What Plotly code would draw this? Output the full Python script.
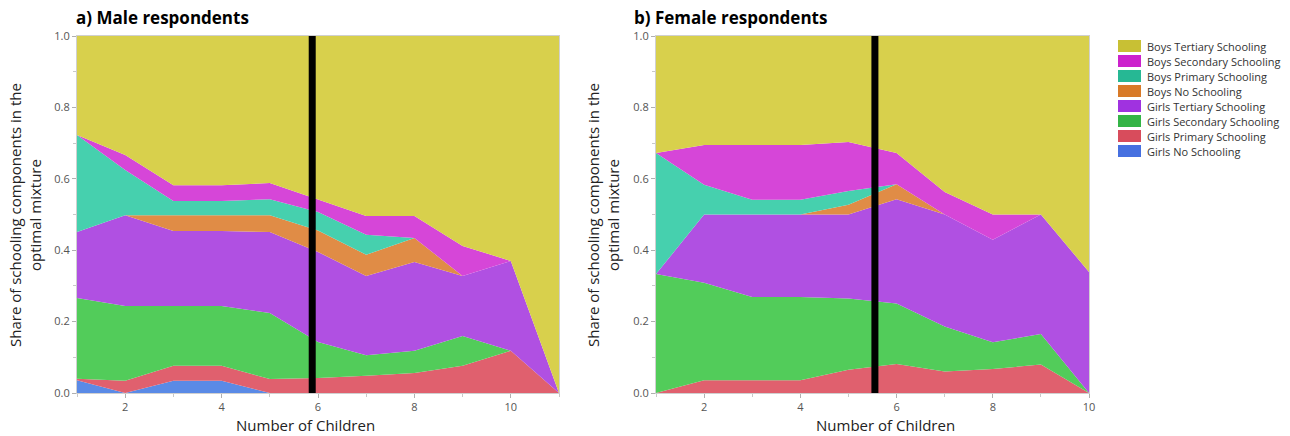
import plotly.graph_objects as go

# Number of children (x) for each panel
children_male = [1, 2, 3, 4, 5, 6, 7, 8, 9, 10, 11]
children_female = [1, 2, 3, 4, 5, 6, 7, 8, 9, 10]

# Series, bottom of the stack first
series_names = [
    "Girls No Schooling",
    "Girls Primary Schooling",
    "Girls Secondary Schooling",
    "Girls Tertiary Schooling",
    "Boys No Schooling",
    "Boys Primary Schooling",
    "Boys Secondary Schooling",
    "Boys Tertiary Schooling",
]

# a) Male respondents: share of each schooling component
male_girls_none = [0.036, 0.0, 0.034, 0.034, 0.0, 0.0, 0.0, 0.0, 0.0, 0.0, 0.0]
male_girls_primary = [0.004, 0.034, 0.042, 0.042, 0.039, 0.042, 0.048, 0.056, 0.076, 0.118, 0.0]
male_girls_secondary = [0.226, 0.210, 0.168, 0.168, 0.185, 0.101, 0.058, 0.062, 0.084, 0.0, 0.0]
male_girls_tertiary = [0.185, 0.254, 0.210, 0.210, 0.227, 0.252, 0.222, 0.249, 0.168, 0.252, 0.0]
male_boys_none = [0.0, 0.0, 0.044, 0.044, 0.047, 0.060, 0.059, 0.067, 0.0, 0.0, 0.0]
male_boys_primary = [0.272, 0.127, 0.040, 0.040, 0.045, 0.052, 0.056, 0.0, 0.0, 0.0, 0.0]
male_boys_secondary = [0.0, 0.042, 0.044, 0.044, 0.045, 0.034, 0.053, 0.062, 0.084, 0.0, 0.0]
male_boys_tertiary = [0.277, 0.333, 0.418, 0.418, 0.412, 0.459, 0.504, 0.504, 0.588, 0.630, 1.0]

# b) Female respondents: share of each schooling component
female_girls_none = [0.0, 0.0, 0.0, 0.0, 0.0, 0.0, 0.0, 0.0, 0.0, 0.0]
female_girls_primary = [0.0, 0.036, 0.036, 0.036, 0.065, 0.081, 0.060, 0.067, 0.080, 0.0]
female_girls_secondary = [0.333, 0.273, 0.233, 0.233, 0.200, 0.170, 0.126, 0.075, 0.085, 0.0]
female_girls_tertiary = [0.0, 0.191, 0.231, 0.231, 0.235, 0.292, 0.314, 0.287, 0.335, 0.339]
female_boys_none = [0.0, 0.0, 0.0, 0.0, 0.027, 0.042, 0.0, 0.0, 0.0, 0.0]
female_boys_primary = [0.339, 0.083, 0.041, 0.041, 0.039, 0.0, 0.0, 0.0, 0.0, 0.0]
female_boys_secondary = [0.0, 0.112, 0.154, 0.154, 0.137, 0.087, 0.063, 0.071, 0.0, 0.0]
female_boys_tertiary = [0.328, 0.305, 0.305, 0.305, 0.297, 0.328, 0.437, 0.500, 0.500, 0.661]

# Marked number of children in each panel
male_marker = 5.88
female_marker = 5.55

# Axis tick labels
x_ticks = [2, 4, 6, 8, 10]
y_ticks = [0.0, 0.2, 0.4, 0.6, 0.8, 1.0]

male_series = [male_girls_none, male_girls_primary, male_girls_secondary, male_girls_tertiary,
               male_boys_none, male_boys_primary, male_boys_secondary, male_boys_tertiary]
female_series = [female_girls_none, female_girls_primary, female_girls_secondary, female_girls_tertiary,
                 female_boys_none, female_boys_primary, female_boys_secondary, female_boys_tertiary]

fill_colors = ["#5a8ae6", "#e0606e", "#52cc5a", "#b050e2", "#e08c46", "#46d0ae", "#d646d8", "#d8d04c"]
key_colors = ["#4670e0", "#d84c5c", "#34b446", "#a032e0", "#d87a28", "#26b894", "#cc22cc", "#c8c034"]

W, H = 1290, 436
FONT = "Open Sans"

fig = go.Figure()

for name, vals, col in zip(series_names, male_series, fill_colors):
    fig.add_trace(go.Scatter(x=children_male, y=vals, name=name, stackgroup="male",
                             mode="lines", line=dict(width=0, color=col), fillcolor=col,
                             xaxis="x", yaxis="y", showlegend=False))
for name, vals, col in zip(series_names, female_series, fill_colors):
    fig.add_trace(go.Scatter(x=children_female, y=vals, name=name, stackgroup="female",
                             mode="lines", line=dict(width=0, color=col), fillcolor=col,
                             xaxis="x2", yaxis="y2", showlegend=False))


def px_x(p):
    return p / W


def px_y(p):
    return 1 - p / H


y_dom = [px_y(393), px_y(36)]

axis_common = dict(
    automargin=False,
    showgrid=False, zeroline=False, showline=True, linecolor="#d0d0d0", linewidth=1,
    mirror=True, ticks="outside", ticklen=4, tickcolor="#b0b0b0",
    tickfont=dict(family=FONT, size=11, color="#555555"),
)
minor_ticks_x = dict(dtick=1, ticks="outside", ticklen=3, tickcolor="#c8c8c8")
minor_ticks_y = dict(dtick=0.1, ticks="outside", ticklen=3, tickcolor="#c8c8c8")

fig.update_layout(
    width=W, height=H, autosize=False,
    margin=dict(l=0, r=0, t=0, b=0, autoexpand=False),
    paper_bgcolor="white", plot_bgcolor="white",
    showlegend=False,
    xaxis=dict(domain=[px_x(77), px_x(559)], range=[children_male[0], children_male[-1]],
               tickvals=x_ticks, anchor="y", minor=minor_ticks_x, **axis_common),
    yaxis=dict(domain=y_dom, range=[0, 1], tickvals=y_ticks, tickformat=".1f", anchor="x",
               minor=minor_ticks_y, **axis_common),
    xaxis2=dict(domain=[px_x(656), px_x(1089)], range=[children_female[0], children_female[-1]],
                tickvals=x_ticks, anchor="y2", minor=minor_ticks_x, **axis_common),
    yaxis2=dict(domain=y_dom, range=[0, 1], tickvals=y_ticks, tickformat=".1f", anchor="x2",
                minor=minor_ticks_y, **axis_common),
)

# Marker lines
fig.add_shape(type="line", xref="x", yref="y domain", x0=male_marker, x1=male_marker, y0=0, y1=1,
              line=dict(color="black", width=7))
fig.add_shape(type="line", xref="x2", yref="y2 domain", x0=female_marker, x1=female_marker, y0=0, y1=1,
              line=dict(color="black", width=7))

annotations = []
# Panel titles
annotations.append(dict(text="<b>a) Male respondents</b>", x=px_x(74), y=px_y(17), xref="paper", yref="paper",
                        xanchor="left", yanchor="middle", showarrow=False,
                        font=dict(family=FONT, size=17, color="black")))
annotations.append(dict(text="<b>b) Female respondents</b>", x=px_x(632), y=px_y(17), xref="paper", yref="paper",
                        xanchor="left", yanchor="middle", showarrow=False,
                        font=dict(family=FONT, size=17, color="black")))
# Axis titles
for cx in (25, 603):
    annotations.append(dict(text="Share of schooling components in the<br>optimal mixture",
                            x=px_x(cx), y=px_y(215), xref="paper", yref="paper",
                            xanchor="center", yanchor="middle", textangle=-90, showarrow=False,
                            font=dict(family=FONT, size=15, color="#222222")))
for cx in (305, 885):
    annotations.append(dict(text="Number of Children", x=px_x(cx), y=px_y(425), xref="paper", yref="paper",
                            xanchor="center", yanchor="middle", showarrow=False,
                            font=dict(family=FONT, size=15, color="#222222")))

# Key, top entry first
for i, (name, col) in enumerate(zip(reversed(series_names), reversed(key_colors))):
    cy = 46 + i * 15
    fig.add_shape(type="rect", xref="paper", yref="paper",
                  x0=px_x(1118), x1=px_x(1141), y0=px_y(cy + 6), y1=px_y(cy - 6),
                  fillcolor=col, line=dict(width=0))
    annotations.append(dict(text=name, x=px_x(1145), y=px_y(cy), xref="paper", yref="paper",
                            xanchor="left", yanchor="middle", showarrow=False,
                            font=dict(family=FONT, size=11, color="#333333")))

fig.update_layout(annotations=annotations)

fig.write_html("out.html")
